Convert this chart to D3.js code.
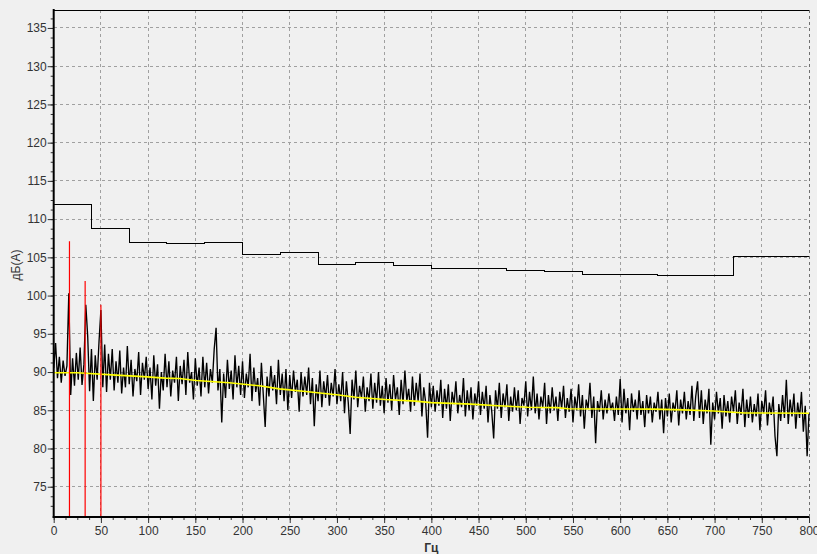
<!DOCTYPE html>
<html><head><meta charset="utf-8">
<script src="https://cdn.jsdelivr.net/npm/d3@7"></script>
<style>
html,body{margin:0;padding:0;background:#f0f0f0;}
svg{display:block;}
text{font-family:"Liberation Sans",Arial,sans-serif;}
</style></head>
<body>
<svg id="c" width="817" height="554"></svg>
<script>
// ---- data ----
const xTicks = [0,50,100,150,200,250,300,350,400,450,500,550,600,650,700,750,800];
const yTicks = [75,80,85,90,95,100,105,110,115,120,125,130,135];
const xLabel = "Гц";
const yLabel = "дБ(А)";

// limit curve (step line): band start, band end, level
const stepStart = [0,40,80,120,160,200,240,280,320,360,400,440,480,520,560,600,640,680,720];
const stepEnd   = [40,80,120,160,200,240,280,320,360,400,440,480,520,560,600,640,680,720,800];
const stepLevel = [111.9,108.8,107.0,106.75,107.0,105.4,105.6,104.1,104.3,103.9,103.5,103.6,103.3,103.1,102.8,102.7,102.65,102.65,105.05];

// tonal components (red)
const toneFreq  = [16.7,33.3,50];
const toneLevel = [107.1,101.9,98.8];

// trend (yellow)
const trendFreq  = [0,25,66,95,118,133,151,186,218,239,267,302,320,351,383,400,442,470,502,533,545,635,667,699,732,800];
const trendLevel = [89.9,89.9,89.6,89.4,89.2,89.15,88.9,88.6,88.2,87.8,87.45,87.0,86.7,86.4,86.2,86.0,85.8,85.6,85.4,85.35,85.2,85.15,85.05,84.9,84.65,84.6];

// spectrum (black), 2 Hz step starting at 0 Hz
const spectrumStep = 2;
const spectrum = [
90.5,93.8,89.2,92.0,88.6,91.5,89.5,90.8,100.3,87.0,91.8,88.2,92.5,89.0,93.2,88.3,91.0,98.8,94.7,87.5,93.0,86.2,92.2,89.0,94.0,
98.1,88.0,93.6,87.4,92.4,89.0,93.0,87.6,91.4,88.6,92.8,87.2,90.6,88.0,93.4,88.4,91.6,86.8,90.4,88.8,92.6,87.0,91.2,89.0,92.0,
87.8,90.6,86.4,92.2,88.2,91.0,85.2,90.0,87.6,92.4,88.0,91.4,86.8,90.2,88.6,92.0,86.2,90.8,88.4,91.6,87.0,92.6,88.6,90.0,86.4,
91.8,88.2,90.6,86.8,92.0,88.0,91.2,87.2,90.4,88.6,93.0,95.8,87.6,90.4,83.4,89.8,86.6,91.6,87.8,90.2,86.4,92.2,88.0,90.8,87.0,
91.4,86.6,89.8,88.0,92.4,86.2,90.6,87.4,89.2,85.6,91.2,87.0,82.8,89.4,86.8,90.8,87.6,89.6,85.8,91.6,87.0,89.8,86.2,90.4,85.0,
89.6,86.6,90.2,87.4,89.0,84.8,90.0,86.8,89.4,87.0,90.6,85.8,89.2,82.9,88.4,86.2,90.2,85.4,88.8,86.6,89.6,85.6,88.6,86.8,90.4,
85.8,88.4,86.2,90.0,84.6,88.8,86.0,81.9,89.0,86.4,90.2,85.4,88.2,86.6,89.4,84.8,88.0,86.2,89.8,85.2,88.6,86.0,90.0,85.6,88.2,
84.6,89.2,86.0,88.4,85.0,89.6,86.4,88.0,84.4,89.0,85.8,90.2,86.2,87.8,84.8,89.4,85.6,88.6,86.2,89.8,84.2,88.0,86.0,81.4,88.6,
85.4,88.2,84.8,87.6,85.6,89.0,84.0,87.8,85.2,88.4,83.6,87.4,85.8,88.8,84.6,87.0,85.4,89.2,84.2,87.6,85.0,88.0,83.8,87.2,85.6,
88.8,84.4,87.4,85.2,88.2,83.4,87.0,84.8,81.3,87.6,85.2,88.6,84.0,87.2,85.4,88.4,83.6,86.8,84.8,88.0,85.0,87.6,83.2,86.6,85.6,
88.8,84.2,87.4,85.0,89.4,84.6,87.2,83.8,86.8,85.4,88.6,83.2,87.0,84.6,88.0,85.0,86.8,83.6,87.4,85.2,88.2,84.0,86.6,84.8,87.8,
83.4,86.8,85.0,88.4,84.2,87.0,82.6,86.4,85.2,88.6,84.0,86.8,80.7,86.2,84.8,87.6,83.8,86.4,84.6,87.2,85.0,86.0,83.6,86.8,84.4,
89.1,83.4,87.8,84.6,86.6,82.4,87.2,84.8,86.4,83.8,87.6,84.4,86.2,82.8,87.0,84.6,86.8,83.4,86.0,84.8,87.4,83.8,86.4,82.0,86.6,
84.2,87.2,83.4,86.0,84.8,87.6,83.0,86.4,84.6,87.4,83.8,86.2,84.4,88.2,83.6,86.8,88.8,84.0,87.6,83.2,86.4,84.6,87.8,80.5,86.0,
83.8,87.4,84.6,86.6,82.6,87.0,84.2,86.2,83.4,86.8,84.8,87.6,83.2,86.0,84.4,87.8,82.8,86.4,84.0,86.8,83.4,85.8,84.2,87.2,82.4,
86.2,84.6,87.6,83.0,86.0,84.4,86.8,81.6,79.0,85.8,83.6,87.0,84.0,89.0,83.2,86.4,84.2,87.2,82.6,86.0,84.0,87.4,82.2,85.6,79.0,
84.6
];

// ---- layout ----
const svg = d3.select("#c");
const L = 53.7, R = 809, T = 10, B = 517;
const x = d3.scaleLinear().domain([0,800]).range([L,R]);
const y = d3.scaleLinear().domain([71.04,137.35]).range([B,T]);

// grid
const g = svg.append("g");
g.selectAll("line.hg").data(yTicks).join("line")
  .attr("x1",L).attr("x2",R).attr("y1",d=>y(d)).attr("y2",d=>y(d))
  .attr("stroke","#a0a0a0").attr("stroke-width",1).attr("stroke-dasharray","3,3").attr("shape-rendering","crispEdges");
g.selectAll("line.vg").data(xTicks.filter(d=>d>0)).join("line")
  .attr("x1",d=>x(d)).attr("x2",d=>x(d)).attr("y1",T).attr("y2",B)
  .attr("stroke",d=>d===800?"#707070":"#a0a0a0").attr("stroke-width",1).attr("stroke-dasharray","3,3").attr("shape-rendering","crispEdges");

// top border
svg.append("line").attr("x1",L).attr("x2",R).attr("y1",T).attr("y2",T)
  .attr("stroke","#000").attr("stroke-width",1).attr("shape-rendering","crispEdges");

// spectrum
const specData = spectrum.map((v,i)=>[i*spectrumStep,v]);
svg.append("path").datum(specData)
  .attr("fill","none").attr("stroke","#000").attr("stroke-width",1.35)
  .attr("d",d3.line().x(d=>x(d[0])).y(d=>y(d[1])));

// step limit curve
const stepData = [];
stepStart.forEach((s,i)=>{stepData.push([s,stepLevel[i]]);stepData.push([stepEnd[i],stepLevel[i]]);});
svg.append("path").datum(stepData)
  .attr("fill","none").attr("stroke","#000").attr("stroke-width",1).attr("shape-rendering","crispEdges")
  .attr("d",d3.line().x(d=>x(d[0])).y(d=>y(d[1])));

// trend
svg.append("path").datum(trendFreq.map((f,i)=>[f,trendLevel[i]]))
  .attr("fill","none").attr("stroke","#ffff00").attr("stroke-width",1.6)
  .attr("d",d3.line().x(d=>x(d[0])).y(d=>y(d[1])));

// tones
svg.selectAll("line.tone").data(toneFreq).join("line")
  .attr("x1",d=>x(d)).attr("x2",d=>x(d))
  .attr("y1",B).attr("y2",(d,i)=>y(toneLevel[i]))
  .attr("stroke","#ff0000").attr("stroke-width",1.2);

// axes
const xMinor = d3.range(0,800.01,12.5);
const yMinor = d3.range(72.5,137.1,1.25);
const ax = svg.append("g").attr("transform",`translate(0,${B})`);
ax.call(d3.axisBottom(x).tickValues(xMinor).tickSize(3).tickFormat(""));
ax.append("g").call(d3.axisBottom(x).tickValues(xTicks).tickSize(6).tickPadding(3).tickFormat(d3.format("d")));
ax.selectAll(".domain").remove();
ax.selectAll("text").attr("font-size",12).attr("fill","#333");
ax.selectAll("line").attr("stroke","#333");

const ay = svg.append("g").attr("transform",`translate(${L},0)`);
ay.call(d3.axisLeft(y).tickValues(yMinor).tickSize(3).tickFormat(""));
ay.append("g").call(d3.axisLeft(y).tickValues(yTicks).tickSize(6).tickPadding(1).tickFormat(d3.format("d")));
ay.selectAll(".domain").remove();
ay.selectAll("text").attr("font-size",12).attr("fill","#333");
ay.selectAll("line").attr("stroke","#333");

// axis lines
svg.append("line").attr("x1",L).attr("x2",L).attr("y1",T-1).attr("y2",B+1)
  .attr("stroke","#000").attr("stroke-width",2);
svg.append("line").attr("x1",L-1).attr("x2",R).attr("y1",B).attr("y2",B)
  .attr("stroke","#000").attr("stroke-width",2);

// labels
svg.append("text").attr("x",(L+R)/2).attr("y",552).attr("text-anchor","middle")
  .attr("font-size",12).attr("font-weight","bold").attr("fill","#333").text(xLabel);
svg.append("text").attr("transform",`translate(20,${265}) rotate(-90)`).attr("text-anchor","middle")
  .attr("font-size",12).attr("fill","#333").text(yLabel);
</script>
</body></html>
